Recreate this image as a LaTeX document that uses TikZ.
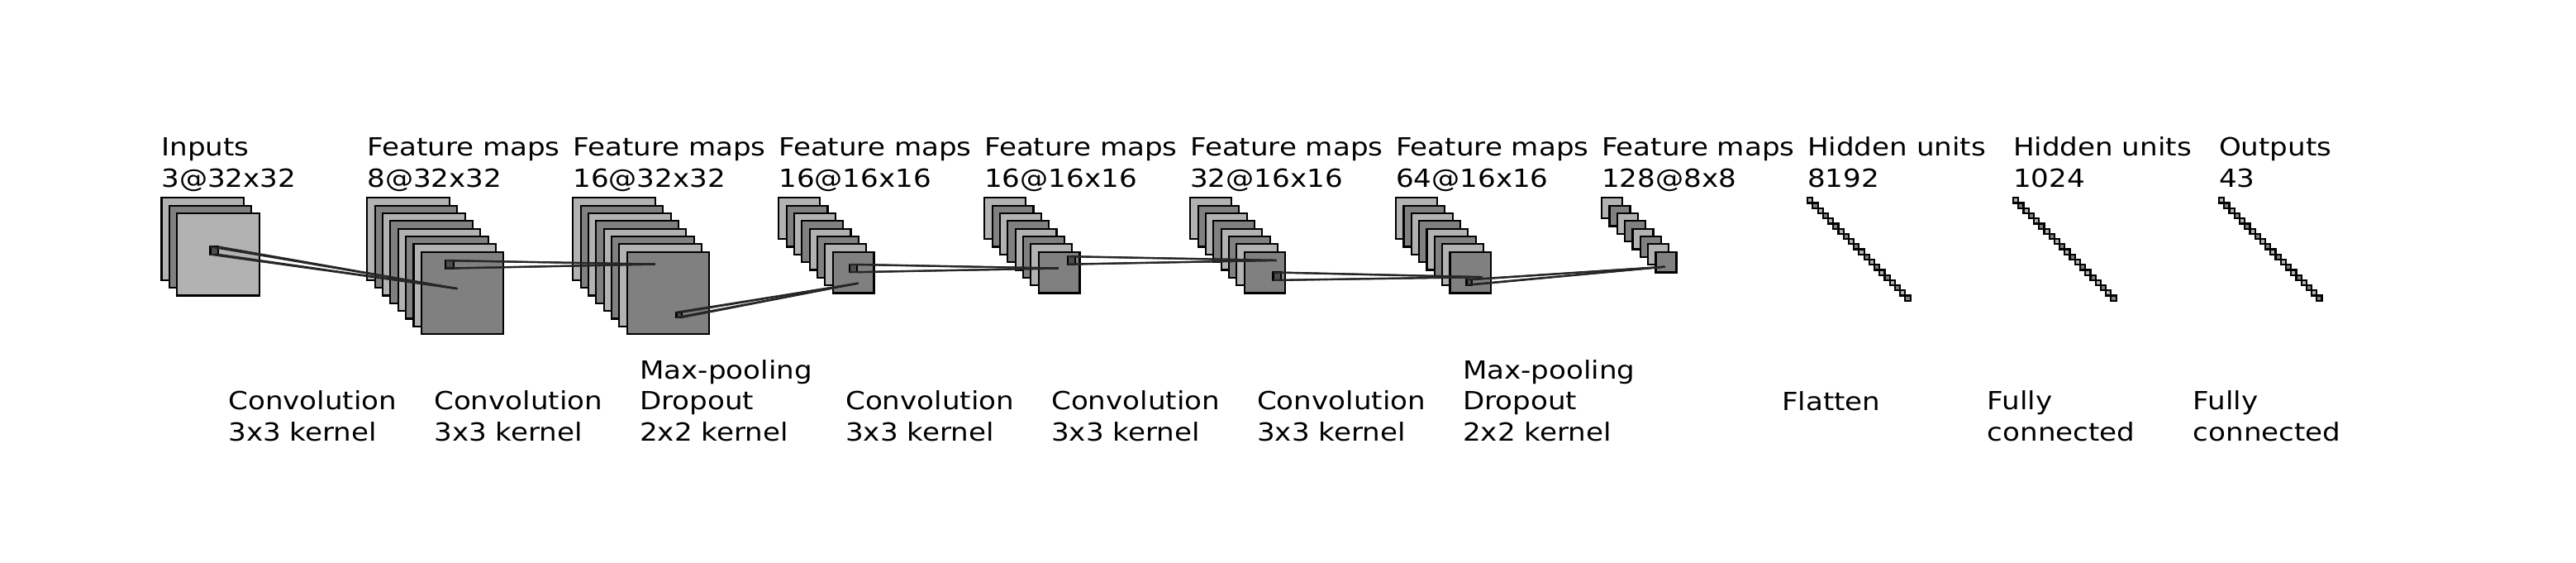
\documentclass[tikz,border=0pt]{standalone}
\usepackage{fontspec}
\setmainfont{DejaVu Sans}[FakeStretch=1.13]
\definecolor{lightg}{gray}{0.7}
\definecolor{medg}{gray}{0.5}
\definecolor{darkg}{gray}{0.3}
\definecolor{darkerg}{gray}{0.15}
\newcommand{\mlines}[1]{\begin{tabular}[b]{@{}l@{}}#1\end{tabular}}
\newcommand{\stackmaps}[4]{% #1 x, #2 size, #3 count, #4 offset
  \foreach \i in {1,...,#3} {
    \pgfmathsetmacro\ox{#1+#4*(\i-1)}
    \pgfmathsetmacro\oy{-#4*(\i-1)}
    \ifodd\i \def\fc{lightg}\else\def\fc{medg}\fi
    \draw[mapbox,fill=\fc] (\ox,\oy) rectangle ++(#2,-#2);
  }
}
\begin{document}
\begin{tikzpicture}[x=1pt,y=1pt,
  mapbox/.style={draw=black,line width=0.7pt},
  patchbox/.style={draw=black,fill=darkg,line width=0.7pt,inner sep=0pt,outer sep=0pt,anchor=north west},
  maplink/.style={draw=darkerg,line width=0.7pt},
  lab/.style={anchor=base west,inner sep=0pt,outer sep=0pt,font=\fontsize{9.7}{12.05}\selectfont}]
\useasboundingbox (-62.8,-141.9) rectangle (938.8,76.9);

% feature map stacks
\stackmaps{0}{32}{3}{3}
\stackmaps{80}{32}{8}{3}
\stackmaps{160}{32}{8}{3}
\stackmaps{240}{16}{8}{3}
\stackmaps{320}{16}{8}{3}
\stackmaps{400}{16}{8}{3}
\stackmaps{480}{16}{8}{3}
\stackmaps{560}{8}{8}{3}
% fully connected units
\stackmaps{640}{2}{20}{2}
\stackmaps{720}{2}{20}{2}
\stackmaps{800}{2}{20}{2}

% kernel patches
\node[patchbox,minimum size=3pt] (p0) at (19.0,-19.0) {};
\node[patchbox,minimum size=3pt] (p1) at (110.5,-24.4) {};
\node[patchbox,minimum size=2pt] (p2) at (200.2,-44.5) {};
\node[patchbox,minimum size=3pt] (p3) at (267.4,-25.9) {};
\node[patchbox,minimum size=3pt] (p4) at (352.3,-22.8) {};
\node[patchbox,minimum size=3pt] (p5) at (432.2,-29.0) {};
\node[patchbox,minimum size=2pt] (p6) at (507.4,-31.8) {};
% target points
\coordinate (e0) at (115.0,-35.3);
\coordinate (e1) at (192.0,-25.8);
\coordinate (e2) at (270.9,-33.2);
\coordinate (e3) at (348.8,-27.4);
\coordinate (e4) at (433.5,-24.3);
\coordinate (e5) at (513.5,-30.8);
\coordinate (e6) at (584.5,-26.8);
\foreach \k in {0,...,6} {
  \foreach \a in {north west,north east,south west,south east}
    \draw[maplink] (p\k.\a) -- (e\k);
}

% top labels
\node[lab] (t0) at (0,4.2) {\mlines{Inputs\\3@32x32}};
\node[lab] (t1) at (80,4.2) {\mlines{Feature maps\\8@32x32}};
\node[lab] (t2) at (160,4.2) {\mlines{Feature maps\\16@32x32}};
\node[lab] (t3) at (240,4.2) {\mlines{Feature maps\\16@16x16}};
\node[lab] (t4) at (320,4.2) {\mlines{Feature maps\\16@16x16}};
\node[lab] (t5) at (400,4.2) {\mlines{Feature maps\\32@16x16}};
\node[lab] (t6) at (480,4.2) {\mlines{Feature maps\\64@16x16}};
\node[lab] (t7) at (560,4.2) {\mlines{Feature maps\\128@8x8}};
\node[lab] (t8) at (640,4.2) {\mlines{Hidden units\\8192}};
\node[lab] (t9) at (720,4.2) {\mlines{Hidden units\\1024}};
\node[lab] (t10) at (800,4.2) {\mlines{Outputs\\43}};

% bottom labels
\node[lab] (b0) at (26,-94.5) {\mlines{Convolution\\3x3 kernel}};
\node[lab] (b1) at (106,-94.5) {\mlines{Convolution\\3x3 kernel}};
\node[lab] (b2) at (186,-94.5) {\mlines{Max-pooling\\Dropout\\2x2 kernel}};
\node[lab] (b3) at (266,-94.5) {\mlines{Convolution\\3x3 kernel}};
\node[lab] (b4) at (346,-94.5) {\mlines{Convolution\\3x3 kernel}};
\node[lab] (b5) at (426,-94.5) {\mlines{Convolution\\3x3 kernel}};
\node[lab] (b6) at (506,-94.5) {\mlines{Max-pooling\\Dropout\\2x2 kernel}};
\node[lab] (b7) at (630,-82.5) {Flatten};
\node[lab] (b8) at (710,-94.5) {\mlines{Fully\\connected}};
\node[lab] (b9) at (790,-94.5) {\mlines{Fully\\connected}};
\end{tikzpicture}
\end{document}
